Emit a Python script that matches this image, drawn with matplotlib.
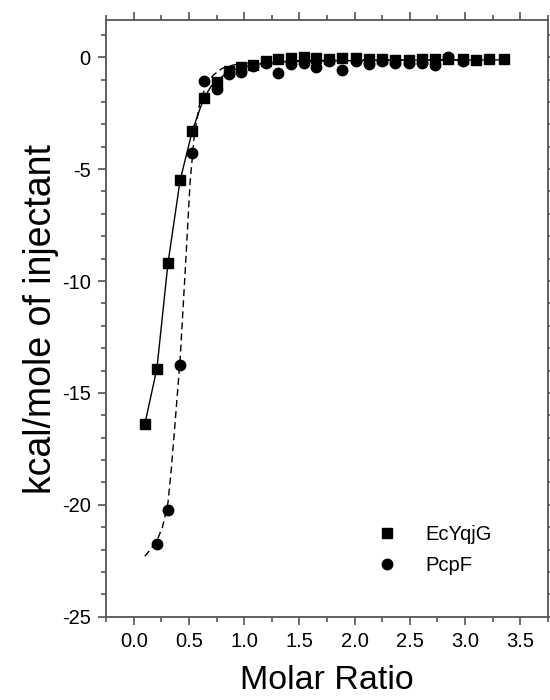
import matplotlib
matplotlib.use("Agg")
import matplotlib.pyplot as plt
from matplotlib.ticker import MultipleLocator

plt.rcParams['font.family'] = ['Liberation Sans', 'DejaVu Sans']
plt.rcParams['axes.unicode_minus'] = False

# EcYqjG data (squares)
ec_x = [0.10, 0.21, 0.31, 0.42, 0.53, 0.64, 0.75, 0.86, 0.97, 1.08, 1.20, 1.31, 1.42, 1.54, 1.65,
        1.77, 1.89, 2.01, 2.13, 2.25, 2.37, 2.49, 2.61, 2.73, 2.85, 2.98, 3.10, 3.22, 3.35]
ec_y = [-16.4, -13.95, -9.2, -5.5, -3.3, -1.8, -1.1, -0.6, -0.42, -0.34, -0.19, -0.09, -0.04, 0.03, -0.04,
        -0.09, -0.05, -0.02, -0.1, -0.1, -0.12, -0.12, -0.1, -0.1, -0.1, -0.1, -0.12, -0.09, -0.09]

# PcpF data (circles)
pc_x = [0.21, 0.31, 0.42, 0.53, 0.64, 0.75, 0.86, 0.97, 1.08, 1.20, 1.31, 1.42, 1.54, 1.65,
        1.77, 1.89, 2.01, 2.13, 2.25, 2.37, 2.49, 2.61, 2.73, 2.85, 2.98]
pc_y = [-21.75, -20.25, -13.75, -4.27, -1.05, -1.4, -0.73, -0.64, -0.4, -0.27, -0.69, -0.31, -0.27, -0.42,
        -0.19, -0.57, -0.19, -0.31, -0.15, -0.27, -0.24, -0.24, -0.34, 0.03, -0.16]

# fitted curves
ec_fit_x = [0.10, 0.21, 0.31, 0.42, 0.53, 0.60, 0.64, 0.70, 0.75, 0.86, 0.97, 1.1, 1.3, 1.6, 2.0, 2.5, 3.0, 3.35]
ec_fit_y = [-16.4, -13.9, -9.2, -5.5, -3.3, -2.3, -1.8, -1.3, -1.05, -0.65, -0.45, -0.32, -0.22, -0.17,
            -0.15, -0.13, -0.12, -0.12]
pc_fit_x = [0.10, 0.15, 0.21, 0.26, 0.31, 0.34, 0.37, 0.42, 0.47, 0.51, 0.55, 0.60, 0.66, 0.72, 0.80,
            0.90, 1.0, 1.2, 1.5, 2.0, 2.5, 2.98]
pc_fit_y = [-22.3, -22.0, -21.6, -21.0, -19.9, -18.4, -16.6, -13.5, -9.2, -5.6, -3.4, -2.0, -1.2, -0.8,
            -0.5, -0.35, -0.28, -0.2, -0.15, -0.13, -0.12, -0.12]

fig = plt.figure(figsize=(5.5, 7), dpi=100)
ax = fig.add_axes([0.193, 0.119, 0.803, 0.852])

ax.plot(ec_fit_x, ec_fit_y, '-', color='black', lw=1)
ax.plot(pc_fit_x, pc_fit_y, '--', color='black', lw=1, dashes=(5, 3))
ax.plot(ec_x, ec_y, 's', color='black', ms=7.5, label='EcYqjG')
ax.plot(pc_x, pc_y, 'o', color='black', ms=7.5, label='PcpF')

ax.set_xlim(-0.25, 3.75)
ax.set_ylim(-25, 1.65)
ax.xaxis.set_major_locator(MultipleLocator(0.5))
ax.xaxis.set_minor_locator(MultipleLocator(0.25))
ax.yaxis.set_major_locator(MultipleLocator(5))
ax.yaxis.set_minor_locator(MultipleLocator(1))
ax.xaxis.set_major_formatter(plt.FormatStrFormatter('%.1f'))

for s in ax.spines.values():
    s.set_color('#555555')
    s.set_linewidth(1.3)
ax.tick_params(which='both', direction='out', top=True, right=True, color='#555555', width=1.2,
               labelsize=14.5, pad=5)
ax.tick_params(which='major', length=6)
ax.tick_params(which='minor', length=3.5)

ax.set_xlabel('Molar Ratio', fontsize=24.5, labelpad=10)
ax.set_ylabel('kcal/mole of injectant', fontsize=27, labelpad=2)

ax.legend(loc='lower right', frameon=False, fontsize=14.5, handletextpad=0.9,
          bbox_to_anchor=(0.915, 0.04), labelspacing=0.6)

fig.savefig('out.png', dpi=100)
